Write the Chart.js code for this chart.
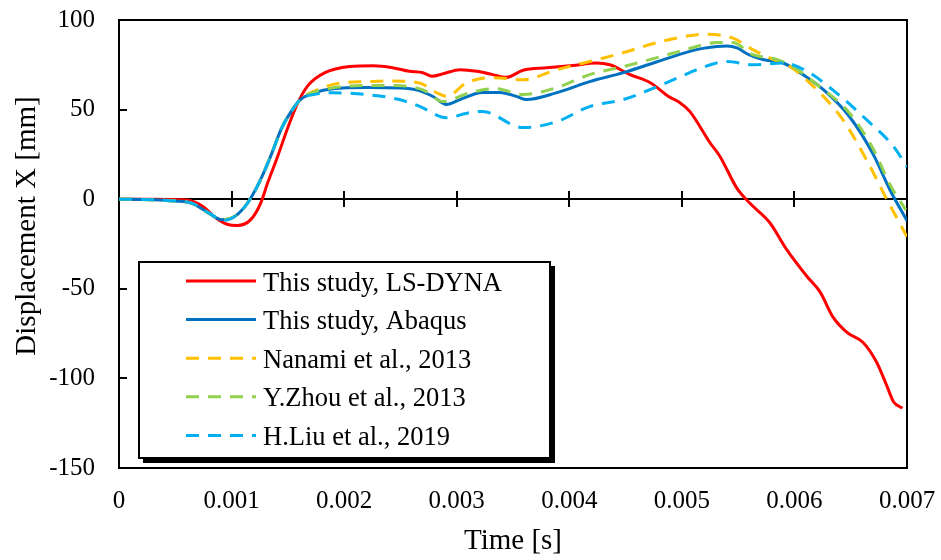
<!DOCTYPE html>
<html>
<head>
<meta charset="utf-8">
<title>Displacement X vs Time</title>
<script src="https://cdn.jsdelivr.net/npm/chart.js@4.4.1/dist/chart.umd.min.js"></script>
<style>
  html, body { margin: 0; padding: 0; background: #ffffff; }
  #wrap { width: 941px; height: 560px; }
</style>
</head>
<body>
<div id="wrap"><canvas id="chart" width="941" height="560"></canvas></div>
<script>
// ---- data -------------------------------------------------------------
const seriesNames = [
  'This study, LS-DYNA',
  'This study, Abaqus',
  'Nanami et al., 2013',
  'Y.Zhou et al., 2013',
  'H.Liu et al., 2019'
];

const xTickValues = [0, 0.001, 0.002, 0.003, 0.004, 0.005, 0.006, 0.007];
const xTickLabels = ['0', '0.001', '0.002', '0.003', '0.004', '0.005', '0.006', '0.007'];
const yTickValues = [100, 50, 0, -50, -100, -150];
const yTickLabels = ['100', '50', '0', '-50', '-100', '-150'];

// This study, LS-DYNA
const lsDynaTime = [0, 0.0003, 0.0006, 0.00067, 0.00076, 0.00085, 0.00096, 0.00105, 0.00117, 0.00126,
  0.00132, 0.00141, 0.0015, 0.00159, 0.00168, 0.00183, 0.00205, 0.00226, 0.00243, 0.00258,
  0.0027, 0.00278, 0.00288, 0.00303, 0.00318, 0.00332, 0.00344, 0.00359, 0.0038, 0.00403,
  0.00424, 0.00436, 0.00454, 0.00472, 0.00489, 0.00498, 0.00507, 0.00525, 0.00534, 0.00549,
  0.0056, 0.00578, 0.00593, 0.00611, 0.00623, 0.00634, 0.00647, 0.00661, 0.00673, 0.00682,
  0.00688, 0.00696];
const lsDynaDisp = [0, 0, -0.5, -1.5, -4.7, -10, -14, -14.7, -11.4, -2,
  9, 24, 40, 54, 63.5, 70.6, 74, 74.5, 73.4, 71.4,
  70.6, 68.6, 70, 72.3, 71.4, 69.5, 68, 72, 73.3, 74.6,
  76, 75, 69.5, 65, 57, 54, 49, 31.5, 23.7, 6,
  -2, -13, -28, -43, -52, -65.5, -74.5, -80, -91, -104,
  -113, -116.6];

// This study, Abaqus
const abaqusTime = [0, 0.0003, 0.0005, 0.00065, 0.00079, 0.00091, 0.00103, 0.00112, 0.00118, 0.00127,
  0.00136, 0.00144, 0.00153, 0.00162, 0.00174, 0.0019, 0.0022, 0.0025, 0.00264, 0.00279,
  0.00291, 0.00303, 0.00323, 0.00338, 0.00353, 0.00362, 0.00389, 0.00418, 0.00448, 0.00478,
  0.00507, 0.0052, 0.0054, 0.00549, 0.0056, 0.00572, 0.0059, 0.00605, 0.00626, 0.00649,
  0.0067, 0.00685, 0.007];
const abaqusDisp = [0, -0.3, -1, -2.3, -7.5, -11.4, -9.5, -4, 1.6, 12.6,
  26, 39, 49, 56, 59.5, 61.6, 62.3, 62, 61, 57.3,
  52.8, 55.6, 59.5, 59.5, 57.4, 55.6, 59.5, 65.6, 70.6, 76.7,
  82.5, 84.3, 85.5, 84.4, 80.5, 78, 76, 70.6, 61, 46,
  25, 5, -12];

// Nanami et al., 2013
const nanamiTime = [0, 0.0003, 0.0005, 0.00065, 0.00079, 0.00092, 0.00103, 0.00112, 0.00118, 0.00127,
  0.00136, 0.00144, 0.00153, 0.00162, 0.00174, 0.00196, 0.0022, 0.00243, 0.00267, 0.00282,
  0.00291, 0.00309, 0.00332, 0.00359, 0.00389, 0.00418, 0.00448, 0.00478, 0.00513, 0.0052,
  0.00545, 0.00563, 0.00581, 0.00596, 0.0062, 0.00643, 0.00664, 0.00682, 0.007];
const nanamiDisp = [0, -0.3, -1, -2.3, -7.5, -11.5, -9.5, -4, 1.6, 12.6,
  26, 39, 49, 56, 60.5, 64.8, 65.6, 66, 64.8, 59.5,
  57.4, 65, 67.8, 66.7, 72.3, 76.8, 81.8, 87.4, 91.8, 92,
  90, 83.5, 78, 74, 61, 44.4, 22, 0, -21];

// Y.Zhou et al., 2013
const zhouTime = [0, 0.0003, 0.0005, 0.00065, 0.00079, 0.00092, 0.00103, 0.00112, 0.00118, 0.00127,
  0.00136, 0.00144, 0.00153, 0.00162, 0.00175, 0.0022, 0.00246, 0.0027, 0.00288, 0.00312,
  0.00335, 0.00359, 0.00389, 0.00418, 0.00448, 0.00478, 0.00501, 0.00531, 0.00545, 0.00563,
  0.00584, 0.00596, 0.0062, 0.00649, 0.0067, 0.00685, 0.00699];
const zhouDisp = [0, -0.3, -1, -2.3, -7.5, -11.5, -9.5, -4, 1.6, 12.6,
  26, 39, 49, 56, 60, 63.4, 63.4, 61, 54.5, 59.5,
  61.7, 58.4, 62.3, 69.5, 74, 79, 83, 87.4, 87.4, 80.7,
  78, 75, 64, 48, 28, 8, -6];

// H.Liu et al., 2019
const liuTime = [0, 0.0003, 0.0005, 0.00065, 0.00079, 0.00094, 0.00103, 0.00112, 0.00118, 0.00127,
  0.00136, 0.00144, 0.00153, 0.00162, 0.00174, 0.0019, 0.0022, 0.00249, 0.00267, 0.00291,
  0.00309, 0.00323, 0.00353, 0.00359, 0.00389, 0.00418, 0.00448, 0.00478, 0.00507, 0.00516,
  0.0054, 0.00563, 0.0059, 0.00611, 0.00634, 0.00664, 0.00688, 0.007];
const liuDisp = [0, -0.3, -1, -2.3, -7.5, -11.8, -9.5, -4, 1.6, 12.6,
  26, 39, 49, 56, 58.5, 59.4, 58.4, 55.6, 51.8, 45.4,
  48, 49, 40.6, 40, 43.3, 51.7, 55.6, 62.8, 70.6, 73,
  76.8, 75, 76, 71.4, 61, 44.4, 29.4, 18];

// ---- styling ----------------------------------------------------------
const SERIF = "'Liberation Serif', 'Times New Roman', Times, serif";
const seriesColors = ['#FF0000', '#0070C0', '#FFC000', '#92D050', '#00B0F0'];
const seriesDashes = [[], [], [13, 9], [13, 9], [13, 9]];
const seriesTimes = [lsDynaTime, abaqusTime, nanamiTime, zhouTime, liuTime];
const seriesValues = [lsDynaDisp, abaqusDisp, nanamiDisp, zhouDisp, liuDisp];

const datasets = seriesNames.map((name, i) => ({
  label: name,
  data: seriesTimes[i].map((t, k) => ({ x: t, y: seriesValues[i][k] })),
  borderColor: seriesColors[i],
  backgroundColor: seriesColors[i],
  borderWidth: 3,
  borderDash: seriesDashes[i],
  borderCapStyle: 'butt',
  borderJoinStyle: 'round',
  pointRadius: 0,
  pointHoverRadius: 0,
  fill: false,
  cubicInterpolationMode: 'monotone',
  // later series are painted over earlier ones
  order: seriesNames.length - i
}));

// Axis frame, zero line with crossing ticks, inward y ticks, legend box and titles
const decorations = {
  id: 'decorations',
  beforeDatasetsDraw(chart) {
    const ctx = chart.ctx;
    const { left, right, top, bottom } = chart.chartArea;
    const xs = chart.scales.x, ys = chart.scales.y;
    ctx.save();
    ctx.strokeStyle = '#000000';
    ctx.lineWidth = 2;
    ctx.lineCap = 'butt';

    const y0 = Math.round(ys.getPixelForValue(0));
    ctx.beginPath();
    ctx.moveTo(left, y0);
    ctx.lineTo(right, y0);
    xTickValues.forEach(v => {
      const px = Math.round(xs.getPixelForValue(v));
      ctx.moveTo(px, y0 - 8);
      ctx.lineTo(px, y0 + 8);
    });
    yTickValues.forEach(v => {
      const py = Math.round(ys.getPixelForValue(v));
      ctx.moveTo(left, py);
      ctx.lineTo(left + 8, py);
    });
    ctx.stroke();
    ctx.strokeRect(left, top, right - left, bottom - top);
    ctx.restore();
  },
  afterDatasetsDraw(chart) {
    const ctx = chart.ctx;
    const { left, right } = chart.chartArea;
    ctx.save();

    // legend box with drop shadow
    const bx = 139, by = 262, bw = 411, bh = 196;
    ctx.fillStyle = '#000000';
    ctx.fillRect(bx + 4, by + 4, bw + 1, bh + 1);
    ctx.fillStyle = '#ffffff';
    ctx.fillRect(bx, by, bw, bh);
    ctx.strokeStyle = '#000000';
    ctx.lineWidth = 2;
    ctx.strokeRect(bx, by, bw, bh);

    ctx.font = '26.5px ' + SERIF;
    ctx.textAlign = 'left';
    ctx.textBaseline = 'alphabetic';
    chart.data.datasets.forEach((ds, i) => {
      const ly = 281 + i * 38.6;
      ctx.beginPath();
      ctx.strokeStyle = ds.borderColor;
      ctx.lineWidth = 3;
      ctx.setLineDash(ds.borderDash || []);
      ctx.moveTo(186, ly);
      ctx.lineTo(256, ly);
      ctx.stroke();
      ctx.setLineDash([]);
      ctx.fillStyle = '#000000';
      ctx.fillText(ds.label, 263, ly + 9.5);
    });

    // axis titles
    ctx.fillStyle = '#000000';
    ctx.font = '29px ' + SERIF;
    ctx.textAlign = 'center';
    ctx.textBaseline = 'middle';
    ctx.fillText('Time [s]', (left + right) / 2, 541);
    ctx.translate(27, 226);
    ctx.rotate(-Math.PI / 2);
    ctx.fillText('Displacement X [mm]', 0, 0);
    ctx.restore();
  }
};

new Chart(document.getElementById('chart'), {
  type: 'line',
  data: { datasets },
  options: {
    responsive: false,
    animation: false,
    events: [],
    layout: { padding: { left: 0, right: 34, top: 20, bottom: 0 } },
    plugins: {
      legend: { display: false },
      tooltip: { enabled: false },
      title: { display: false }
    },
    scales: {
      x: {
        type: 'linear',
        min: 0,
        max: 0.007,
        afterFit(scale) {
          scale.height = 92;
          scale.paddingLeft = 0;
          scale.paddingRight = 0;
        },
        afterBuildTicks(scale) { scale.ticks = xTickValues.map(v => ({ value: v })); },
        ticks: {
          callback: (v, i) => xTickLabels[i],
          font: { family: SERIF, size: 25 },
          color: '#000000',
          padding: 18,
          maxRotation: 0,
          autoSkip: false
        },
        grid: { display: false, drawTicks: false },
        border: { display: false }
      },
      y: {
        type: 'linear',
        min: -150,
        max: 100,
        afterFit(scale) {
          scale.width = 119;
          scale.paddingTop = 0;
          scale.paddingBottom = 0;
        },
        afterBuildTicks(scale) { scale.ticks = yTickValues.map(v => ({ value: v })); },
        ticks: {
          callback: (v, i) => yTickLabels[i],
          font: { family: SERIF, size: 25 },
          color: '#000000',
          padding: 24,
          autoSkip: false
        },
        grid: { display: false, drawTicks: false },
        border: { display: false }
      }
    }
  },
  plugins: [decorations]
});
</script>
</body>
</html>
